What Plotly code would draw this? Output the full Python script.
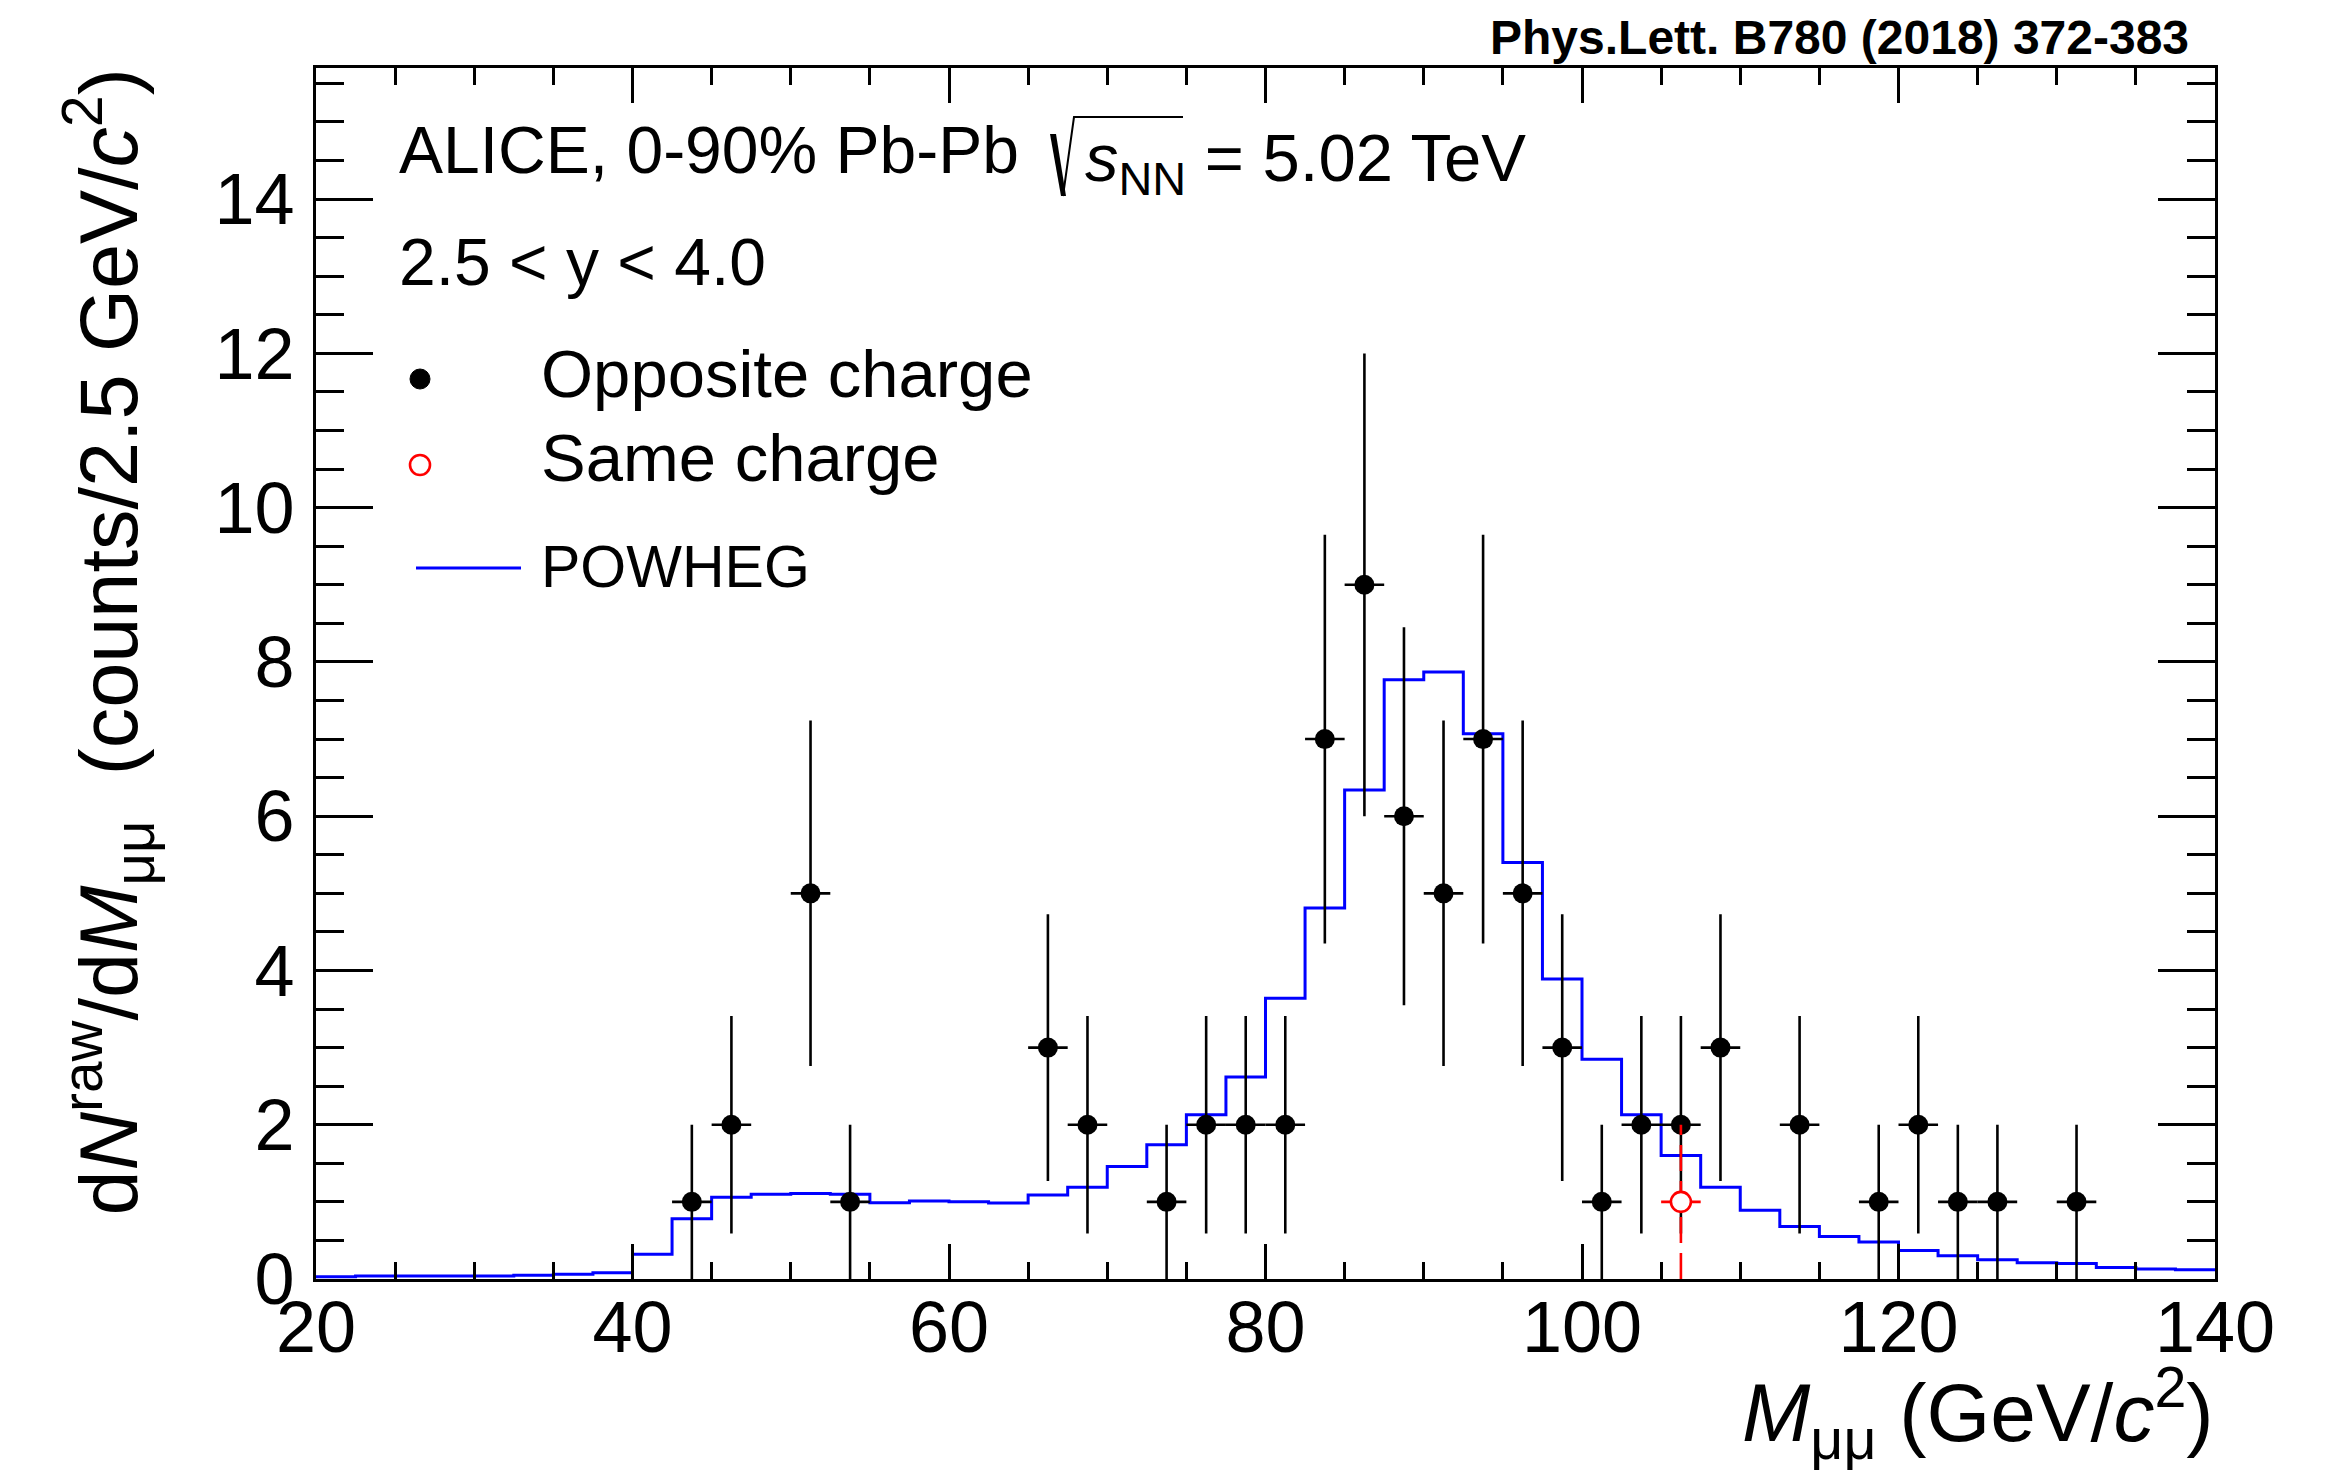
import plotly.graph_objects as go

# ---------------- data ----------------
# POWHEG histogram: 2.5 GeV/c^2 bins from 20 to 140
powheg_edges = [20 + 2.5 * i for i in range(49)]
powheg_vals = [0.03, 0.04, 0.04, 0.04, 0.04, 0.05, 0.06, 0.08,
               0.32, 0.78, 1.06, 1.10, 1.11, 1.10, 0.99, 1.01,
               1.00, 0.985, 1.09, 1.19, 1.46, 1.74, 2.13, 2.62,
               3.64, 4.81, 6.34, 7.77, 7.87, 7.07, 5.40, 3.89,
               2.85, 2.13, 1.60, 1.19, 0.89, 0.68, 0.55, 0.48,
               0.37, 0.30, 0.25, 0.21, 0.20, 0.15, 0.13, 0.12]

# Opposite-charge pairs
os_mass = [43.75, 46.25, 51.25, 53.75, 66.25, 68.75, 73.75, 76.25, 78.75,
           81.25, 83.75, 86.25, 88.75, 91.25, 93.75, 96.25, 98.75, 101.25,
           103.75, 106.25, 108.75, 113.75, 118.75, 121.25, 123.75, 126.25, 131.25]
os_counts = [1, 2, 5, 1, 3, 2, 1, 2, 2,
             2, 7, 9, 6, 5, 7, 5, 3, 1,
             2, 2, 3, 2, 1, 2, 1, 1, 1]
os_err = [1.0, 1.41, 2.24, 1.0, 1.73, 1.41, 1.0, 1.41, 1.41,
          1.41, 2.65, 3.0, 2.45, 2.24, 2.65, 2.24, 1.73, 1.0,
          1.41, 1.41, 1.73, 1.41, 1.0, 1.41, 1.0, 1.0, 1.0]
os_xerr = [1.25] * len(os_mass)

# Same-charge pairs
ss_mass = [106.25]
ss_counts = [1]
ss_err = [1.0]
ss_xerr = [1.25]

x_ticks = [20, 40, 60, 80, 100, 120, 140]
y_ticks = [0, 2, 4, 6, 8, 10, 12, 14]

# ---------------- layout geometry (pixels) ----------------
FIG_W, FIG_H = 2336, 1471
L, R, T, B = 316, 2215, 68, 1279
W, H = R - L, B - T
FONT = "Liberation Sans, Arial, Helvetica, sans-serif"


def X(px):
    return (px - L) / W


def Y(py):
    return (B - py) / H


fig = go.Figure()

# POWHEG step histogram
fig.add_trace(go.Scatter(
    x=powheg_edges, y=powheg_vals + [powheg_vals[-1]],
    mode="lines", line=dict(shape="hv", color="#0000ff", width=3),
    name="POWHEG", showlegend=False, hoverinfo="skip"))

# Opposite charge points
fig.add_trace(go.Scatter(
    x=os_mass, y=os_counts, mode="markers",
    marker=dict(symbol="circle", size=20, color="black"),
    error_y=dict(type="data", array=os_err, visible=True, color="black",
                 thickness=2.6, width=0),
    error_x=dict(type="data", array=os_xerr, visible=True, color="black",
                 thickness=2.6, width=0),
    name="Opposite charge", showlegend=False))

# Same charge: dashed vertical error bar
fig.add_trace(go.Scatter(
    x=[ss_mass[0], ss_mass[0]],
    y=[ss_counts[0] - ss_err[0], ss_counts[0] + ss_err[0]],
    mode="lines", line=dict(color="#ff0000", width=2.6, dash="26px,10px"),
    showlegend=False, hoverinfo="skip"))
fig.add_trace(go.Scatter(
    x=ss_mass, y=ss_counts, mode="markers",
    marker=dict(symbol="circle", size=20, color="white",
                line=dict(width=2.6, color="#ff0000")),
    error_x=dict(type="data", array=ss_xerr, visible=True, color="#ff0000",
                 thickness=2.6, width=0),
    name="Same charge", showlegend=False))

axis_common = dict(
    showline=True, linewidth=3, linecolor="black", mirror="ticks",
    ticks="inside", tickcolor="black", tickwidth=3,
    showgrid=False, zeroline=False,
    tickfont=dict(family=FONT, size=72, color="black"),
)

fig.update_xaxes(range=[20, 140], tickvals=x_ticks, ticklen=35,
                 minor=dict(dtick=5, tick0=20, ticklen=17, tickwidth=3,
                            ticks="inside", tickcolor="black", showgrid=False),
                 ticklabelstandoff=-16, **axis_common)
fig.update_yaxes(range=[0, 15.7], tickvals=y_ticks, ticklen=57,
                 minor=dict(dtick=0.5, tick0=0, ticklen=28, tickwidth=3,
                            ticks="inside", tickcolor="black", showgrid=False),
                 ticklabelstandoff=4, **axis_common)

annotations = []


def text_at(text, px, py_base, size, xanchor="left", bold=False, color="black"):
    if bold:
        text = "<b>" + text + "</b>"
    annotations.append(dict(
        text=text, x=X(px), y=Y(py_base + 0.212 * size), xref="paper", yref="paper",
        xanchor=xanchor, yanchor="bottom", showarrow=False, borderpad=0,
        font=dict(family=FONT, size=size, color=color)))


# Publication reference
text_at("Phys.Lett. B780 (2018) 372-383", 2190, 55, 48, xanchor="right", bold=True)
# Headline texts
text_at("ALICE, 0-90% Pb-Pb", 398, 174, 66)
annotations.append(dict(
    text="<i>s</i><sub>NN</sub> = 5.02 TeV", x=X(1084), y=Y(174 + 0.212 * 66 + 18),
    xref="paper", yref="paper", xanchor="left", yanchor="bottom", showarrow=False,
    borderpad=0, font=dict(family=FONT, size=67, color="black")))
text_at("2.5 &lt; y &lt; 4.0", 398, 286, 66)
# Legend texts
text_at("Opposite charge", 540, 398, 67)
text_at("Same charge", 540, 482, 67)
text_at("POWHEG", 540, 588, 59)

# Axis titles
annotations.append(dict(
    text="<i>M</i><sub>μμ</sub> (GeV/<i>c</i><sup>2</sup>)",
    x=X(2215), y=Y(1472), xref="paper", yref="paper",
    xanchor="right", yanchor="bottom", showarrow=False, borderpad=0,
    font=dict(family=FONT, size=82, color="black")))
annotations.append(dict(
    text="d<i>N</i><sup>raw</sup>/d<i>M</i><sub>μμ</sub>\u00a0\u00a0(counts/2.5 GeV/<i>c</i><sup>2</sup>)",
    x=X(108), y=Y(68), xref="paper", yref="paper", textangle=-90,
    xanchor="center", yanchor="top", showarrow=False, borderpad=0,
    font=dict(family=FONT, size=81, color="black")))

shapes = []
# sqrt sign
shapes.append(dict(type="path", xref="paper", yref="paper",
                   path=f"M{X(1050)},{Y(134)} L{X(1056)},{Y(134)} L{X(1066)},{Y(196)} L{X(1061)},{Y(196)} Z",
                   fillcolor="black", line=dict(width=0)))
shapes.append(dict(type="path", xref="paper", yref="paper",
                   path=f"M{X(1063)},{Y(196)} L{X(1074)},{Y(117)} L{X(1183)},{Y(117)}",
                   line=dict(color="black", width=2)))
# legend keys
shapes.append(dict(type="circle", xref="paper", yref="paper",
                   x0=X(410), x1=X(430), y0=Y(389), y1=Y(369),
                   fillcolor="black", line=dict(color="black", width=1)))
shapes.append(dict(type="circle", xref="paper", yref="paper",
                   x0=X(410), x1=X(430), y0=Y(475), y1=Y(455),
                   fillcolor="rgba(0,0,0,0)", line=dict(color="#ff0000", width=2.6)))
shapes.append(dict(type="line", xref="paper", yref="paper",
                   x0=X(416), x1=X(521), y0=Y(568), y1=Y(568),
                   line=dict(color="#0000ff", width=3)))

fig.update_layout(
    width=FIG_W, height=FIG_H,
    margin=dict(l=L, r=FIG_W - R, t=T, b=FIG_H - B, pad=0),
    paper_bgcolor="white", plot_bgcolor="white",
    showlegend=False,
    annotations=annotations, shapes=shapes,
    font=dict(family=FONT, color="black"),
)

fig.write_html("out.html")
